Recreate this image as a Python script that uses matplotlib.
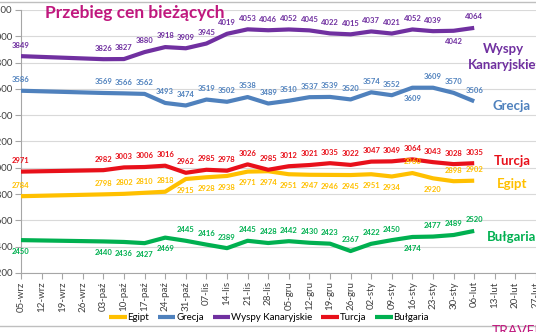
import matplotlib
matplotlib.use("Agg")
import matplotlib.pyplot as plt

plt.rcParams["font.family"] = ["Lato", "DejaVu Sans"]

# Week labels on the x axis
weeks = ["05-wrz", "12-wrz", "19-wrz", "26-wrz", "03-paź", "10-paź", "17-paź",
         "24-paź", "31-paź", "07-lis", "14-lis", "21-lis", "28-lis", "05-gru",
         "12-gru", "19-gru", "26-gru", "02-sty", "09-sty", "16-sty", "23-sty",
         "30-sty", "06-lut", "13-lut", "20-lut", "27-lut"]

# Weeks with a measurement
point_weeks = ["05-wrz", "03-paź", "10-paź", "17-paź", "24-paź", "31-paź",
               "07-lis", "14-lis", "21-lis", "28-lis", "05-gru", "12-gru",
               "19-gru", "26-gru", "02-sty", "09-sty", "16-sty", "23-sty",
               "30-sty", "06-lut"]

egipt = [2784, 2798, 2802, 2810, 2818, 2915, 2928, 2938, 2971, 2974,
         2951, 2947, 2946, 2945, 2951, 2934, 2960, 2920, 2898, 2902]
grecja = [3586, 3569, 3566, 3562, 3493, 3474, 3519, 3502, 3538, 3489,
          3510, 3537, 3539, 3520, 3574, 3552, 3609, 3609, 3570, 3506]
wyspy = [3849, 3826, 3827, 3880, 3918, 3909, 3945, 4019, 4053, 4046,
         4052, 4045, 4022, 4015, 4037, 4021, 4052, 4039, 4042, 4064]
turcja = [2971, 2982, 3003, 3006, 3016, 2962, 2985, 2978, 3026, 2985,
          3012, 3021, 3035, 3022, 3047, 3049, 3064, 3043, 3028, 3035]
bulgaria = [2450, 2440, 2436, 2427, 2469, 2445, 2416, 2389, 2445, 2428,
            2442, 2430, 2423, 2367, 2422, 2450, 2474, 2477, 2489, 2520]

x = [weeks.index(w) for w in point_weeks]

# name, values, colour, indices of value labels placed below the line
series = [
    ("Egipt", egipt, "#FFC000", [5, 6, 7, 8, 9, 10, 11, 12, 13, 14, 15, 17]),
    ("Grecja", grecja, "#4F81BD", [16]),
    ("Wyspy Kanaryjskie", wyspy, "#7030A0", [18]),
    ("Turcja", turcja, "#E8101A", []),
    ("Bułgaria", bulgaria, "#00B050", [0, 1, 2, 3, 4, 16]),
]

W, H = 536, 332
fig = plt.figure(figsize=(W / 100, H / 100), dpi=100)
xmax = 25.4
ax = fig.add_axes([21 / W, (H - 273) / H, xmax * 20.6 / W, 263 / H])

for name, vals, color, below in series:
    ax.plot(x, vals, color=color, lw=3.0, solid_capstyle="butt", label=name, zorder=3)
    for i, (xi, v) in enumerate(zip(x, vals)):
        off = -8 if i in below else 8
        ax.annotate(str(v), (xi, v), xytext=(0, off), textcoords="offset points",
                    ha="center", va="center", fontsize=5.5, fontweight="bold",
                    color=color, zorder=4)

ax.set_xlim(0, xmax)
ax.set_ylim(2200, 4200)
ax.set_yticks(range(2200, 4201, 200))
ax.set_xticks(range(len(weeks)))
ax.set_xticklabels(weeks, rotation=90)
ax.tick_params(axis="both", labelsize=7, colors="#A6A6A6", labelcolor="#404040",
               length=4, pad=2)
ax.grid(axis="y", color="#D9D9D9", lw=0.8)
ax.set_axisbelow(True)
for s in ["top", "right"]:
    ax.spines[s].set_visible(False)
for s in ["left", "bottom"]:
    ax.spines[s].set_color("#A6A6A6")

fig.text(45 / W, 1 - 13 / H, "Przebieg cen bieżących", fontsize=12.5,
         fontweight="bold", color="#C0187E", va="center", ha="left")

# Series names at the right side
fig.text(503 / W, 1 - 49 / H, "Wyspy", fontsize=9.5, fontweight="bold",
         color="#7030A0", ha="center", va="center")
fig.text(502 / W, 1 - 65 / H, "Kanaryjskie", fontsize=9.5, fontweight="bold",
         color="#7030A0", ha="center", va="center")
fig.text(512 / W, 1 - 106 / H, "Grecja", fontsize=9.5, fontweight="bold",
         color="#4F81BD", ha="center", va="center")
fig.text(512 / W, 1 - 161 / H, "Turcja", fontsize=9.5, fontweight="bold",
         color="#E8101A", ha="center", va="center")
fig.text(512 / W, 1 - 184 / H, "Egipt", fontsize=9.5, fontweight="bold",
         color="#FFC000", ha="center", va="center")
fig.text(512 / W, 1 - 237 / H, "Bułgaria", fontsize=9.5, fontweight="bold",
         color="#00B050", ha="center", va="center")

fig.legend(loc="center", bbox_to_anchor=(269 / W, 14 / H), ncol=5, frameon=False,
           fontsize=7, handlelength=1.8, handletextpad=0.1, columnspacing=0.9)

# frame lines and logo
fig.add_artist(plt.Line2D([0, 1], [1 - 2 / H, 1 - 2 / H], color="#BFBFBF", lw=1))
fig.add_artist(plt.Line2D([0, 1], [6 / H, 6 / H], color="#BFBFBF", lw=1))
fig.text(492 / W, 1 - 325 / H, "TRAVELPLANET", fontsize=10, color="#C0187E",
         ha="left", va="top")

fig.savefig("out.png", dpi=100)
